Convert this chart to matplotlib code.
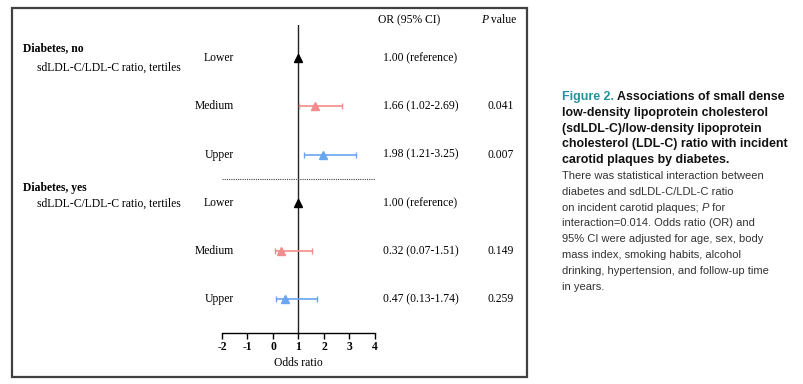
import numpy as np
import matplotlib
matplotlib.use('Agg')
import matplotlib.pyplot as plt
import matplotlib.transforms as mtransforms
from matplotlib.patches import Rectangle

# ── Data ──
groups = ["Diabetes, no", "Diabetes, yes"]
tertiles = ["Lower", "Medium", "Upper"]
or_no = [1.00, 1.66, 1.98]
lo_no = [np.nan, 1.02, 1.21]
hi_no = [np.nan, 2.69, 3.25]
or_yes = [1.00, 0.32, 0.47]
lo_yes = [np.nan, 0.07, 0.13]
hi_yes = [np.nan, 1.51, 1.74]
or_text_no = ["1.00 (reference)", "1.66 (1.02-2.69)", "1.98 (1.21-3.25)"]
or_text_yes = ["1.00 (reference)", "0.32 (0.07-1.51)", "0.47 (0.13-1.74)"]
p_no = ["", "0.041", "0.007"]
p_yes = ["", "0.149", "0.259"]
x_ticks = [-2, -1, 0, 1, 2, 3, 4]
colors = ["black", "#f28b8b", "#6aa6ef"]

W, H = 804, 384
SERIF = "Liberation Serif"
SANS = "Liberation Sans"
FS = 8.4

fig = plt.figure(figsize=(W / 100, H / 100), dpi=100)


def fx(px):
    return px / W


def fy(py):
    return 1 - py / H


# frame around the forest plot
fig.patches.append(Rectangle((fx(12), fy(377)), fx(527) - fx(12), fy(8) - fy(377),
                             transform=fig.transFigure, fill=False,
                             edgecolor="#404040", linewidth=1.6))

# axes: x from -2 (px 222) to 4 (px 375), rows 48.2 px apart
ax = fig.add_axes([fx(222), fy(333), fx(375) - fx(222), fy(25) - fy(333)])
ax.set_xlim(-2, 4)
ax.set_ylim(5.70, -0.69)
for s in ["top", "right", "left"]:
    ax.spines[s].set_visible(False)
ax.spines["bottom"].set_linewidth(1.0)
ax.set_yticks([])
ax.set_xticks(x_ticks)
ax.set_xticklabels([str(t) for t in x_ticks], fontfamily=SERIF,
                   fontweight="bold", fontsize=FS)
ax.tick_params(axis="x", length=4, width=1.0, pad=2)
ax.set_xlabel("Odds ratio", fontfamily=SERIF, fontsize=FS, labelpad=3)
ax.patch.set_alpha(0)

ax.axvline(1, color="#222222", linewidth=1.0, zorder=1)
ax.plot([-2, 4], [2.5, 2.5], linestyle=(0, (1, 1)), color="#444444",
        linewidth=0.8, clip_on=False)

rows_or = or_no + or_yes
rows_lo = lo_no + lo_yes
rows_hi = hi_no + hi_yes
for i in range(6):
    c = colors[i % 3]
    if not np.isnan(rows_lo[i]):
        ax.errorbar(rows_or[i], i,
                    xerr=[[rows_or[i] - rows_lo[i]], [rows_hi[i] - rows_or[i]]],
                    fmt="none", ecolor=c, elinewidth=1.2, capsize=2.5,
                    capthick=1.0, zorder=2)
    ax.plot(rows_or[i], i, marker="^", markersize=5.5, color=c,
            linestyle="none", zorder=3)

trans = mtransforms.blended_transform_factory(fig.transFigure, ax.transData)

# row labels and table columns
all_text = or_text_no + or_text_yes
all_p = p_no + p_yes
for i in range(6):
    fig.text(fx(234), i, tertiles[i % 3], transform=trans, ha="right",
             va="center", fontfamily=SERIF, fontsize=FS)
    fig.text(fx(383), i, all_text[i], transform=trans, ha="left",
             va="center", fontfamily=SERIF, fontsize=FS)
    if all_p[i]:
        fig.text(fx(501), i, all_p[i], transform=trans, ha="center",
                 va="center", fontfamily=SERIF, fontsize=FS)

fig.text(fx(378), fy(20), "OR (95% CI)", ha="left", va="center",
         fontfamily=SERIF, fontsize=FS)
tp = fig.text(fx(481), fy(20), "P", ha="left", va="center",
              fontfamily=SERIF, fontsize=FS, fontstyle="italic")
ax.annotate(" value", xy=(1, 0.5), xycoords=tp, ha="left", va="center",
            fontfamily=SERIF, fontsize=FS, annotation_clip=False)

# group headers
fig.text(fx(23), fy(48), groups[0], ha="left", va="center",
         fontfamily=SERIF, fontsize=FS, fontweight="bold")
fig.text(fx(37), fy(68), "sdLDL-C/LDL-C ratio, tertiles", ha="left",
         va="center", fontfamily=SERIF, fontsize=FS)
fig.text(fx(23), fy(188), groups[1], ha="left", va="center",
         fontfamily=SERIF, fontsize=FS, fontweight="bold")
fig.text(fx(37), fy(204), "sdLDL-C/LDL-C ratio, tertiles", ha="left",
         va="center", fontfamily=SERIF, fontsize=FS)

# ── caption ──
CFS = 8.0
TFS = 8.9
teal = "#24919f"
cap_x = fx(562)
title_lines = [
    "Associations of small dense",
    "low-density lipoprotein cholesterol",
    "(sdLDL-C)/low-density lipoprotein",
    "cholesterol (LDL-C) ratio with incident",
    "carotid plaques by diabetes.",
]
body_lines = [
    "There was statistical interaction between",
    "diabetes and sdLDL-C/LDL-C ratio",
    None,
    "interaction=0.014. Odds ratio (OR) and",
    "95% CI were adjusted for age, sex, body",
    "mass index, smoking habits, alcohol",
    "drinking, hypertension, and follow-up time",
    "in years.",
]
y0 = 97
step = 15.8
t = fig.text(cap_x, fy(y0), "Figure 2.", ha="left", va="center",
             fontfamily=SANS, fontsize=TFS, fontweight="bold", color=teal)
ax.annotate(" " + title_lines[0], xy=(1, 0.5), xycoords=t, va="center",
            ha="left", fontfamily=SANS, fontsize=TFS, fontweight="bold",
            color="#111111", annotation_clip=False)
for k, line in enumerate(title_lines[1:], start=1):
    fig.text(cap_x, fy(y0 + k * step), line, ha="left", va="center",
             fontfamily=SANS, fontsize=TFS, fontweight="bold",
             color="#111111")
for k, line in enumerate(body_lines):
    yy = fy(y0 + (len(title_lines) + k) * step)
    if line is None:
        t2 = fig.text(cap_x, yy, "on incident carotid plaques; ", ha="left",
                      va="center", fontfamily=SANS, fontsize=CFS,
                      color="#333333")
        t3 = ax.annotate("P", xy=(1, 0.5), xycoords=t2, va="center",
                         ha="left", fontfamily=SANS, fontsize=CFS,
                         fontstyle="italic", color="#333333",
                         annotation_clip=False)
        ax.annotate(" for", xy=(1, 0.5), xycoords=t3, va="center",
                    ha="left", fontfamily=SANS, fontsize=CFS,
                    color="#333333", annotation_clip=False)
    else:
        fig.text(cap_x, yy, line, ha="left", va="center", fontfamily=SANS,
                 fontsize=CFS, color="#333333")

fig.savefig("out.png", dpi=100)
